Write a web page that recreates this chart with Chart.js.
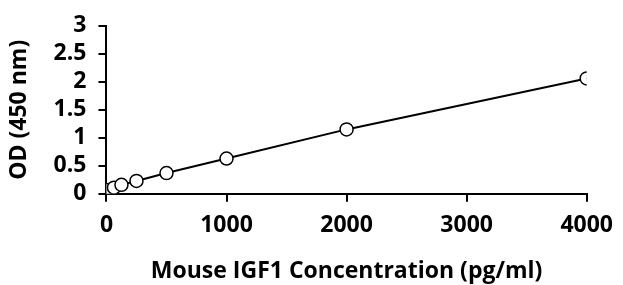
<!DOCTYPE html>
<html>
<head>
<meta charset="utf-8">
<script src="https://cdn.jsdelivr.net/npm/chart.js@4"></script>
<style>
  html, body { margin: 0; padding: 0; background: #fff; }
  #wrap { width: 623px; height: 285px; position: relative; }
</style>
</head>
<body>
<div id="wrap"><canvas id="chart"></canvas></div>
<script>
// --- DATA ---
const concentrations = [0, 62.5, 125, 250, 500, 1000, 2000, 4000];
const odValues = [0.07, 0.11, 0.16, 0.23, 0.37, 0.63, 1.15, 2.06];

const xTitle = 'Mouse IGF1 Concentration (pg/ml)';
const yTitle = 'OD (450 nm)';

const font = { family: '"Open Sans", sans-serif', weight: 'bold', size: 23 };

// --- CHART ---
const ctx = document.getElementById('chart').getContext('2d');
new Chart(ctx, {
  type: 'scatter',
  data: {
    datasets: [{
      data: concentrations.map((c, i) => ({ x: c, y: odValues[i] })),
      showLine: true,
      borderColor: '#000',
      borderWidth: 2,
      pointRadius: 6.5,
      pointBorderWidth: 1.5,
      pointBackgroundColor: '#fff',
      pointBorderColor: '#000',
      tension: 0
    }]
  },
  options: {
    responsive: true,
    maintainAspectRatio: false,
    animation: false,
    layout: { padding: { left: 6, right: -6, top: 10, bottom: 0 } },
    plugins: { legend: { display: false }, tooltip: { enabled: false } },
    scales: {
      x: {
        type: 'linear', min: 0, max: 4000,
        ticks: { stepSize: 1000, maxRotation: 0, minRotation: 0, color: '#000', font, padding: 10, callback: v => String(v) },
        grid: { drawOnChartArea: false, color: '#000', lineWidth: 2, tickLength: 8 },
        border: { color: '#000', width: 2 },
        title: { display: true, text: xTitle, color: '#000', font, padding: { top: 8, bottom: 0 } }
      },
      y: {
        min: 0, max: 3,
        ticks: { stepSize: 0.5, autoSkip: false, color: '#000', font, padding: 12, callback: v => String(v) },
        grid: { drawOnChartArea: false, color: '#000', lineWidth: 2, tickLength: 8 },
        border: { color: '#000', width: 2 },
        title: { display: true, text: yTitle, color: '#000', font, padding: { top: 0, bottom: 8 } }
      }
    }
  }
});
</script>
</body>
</html>
